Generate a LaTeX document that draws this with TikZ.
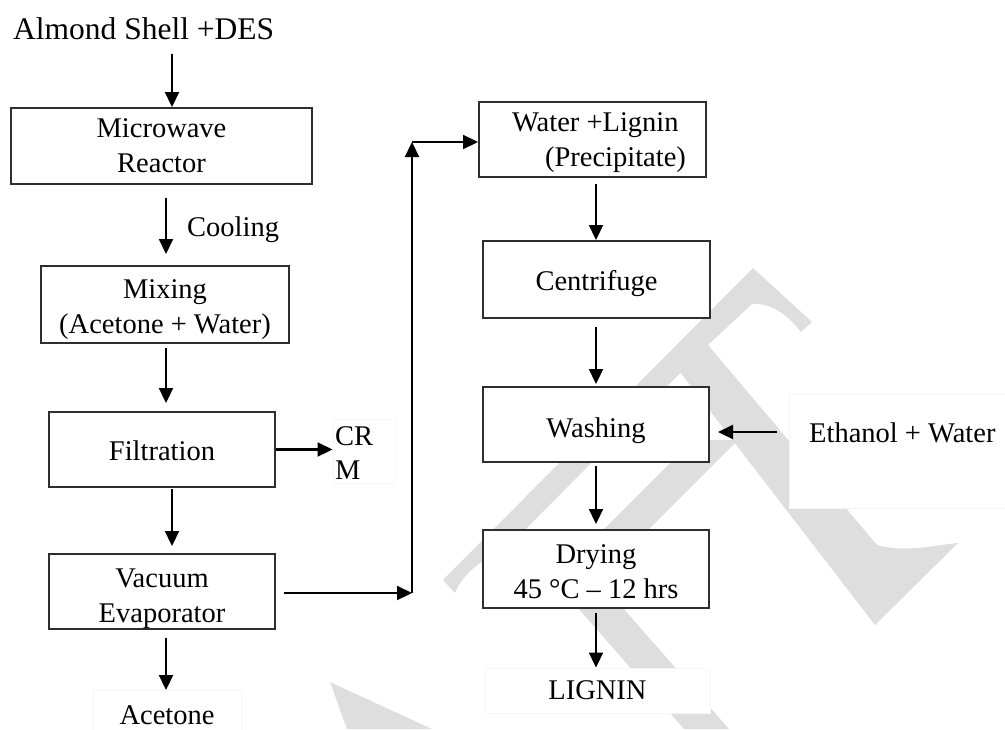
\documentclass[tikz,border=0pt]{standalone}
\usepackage{fontspec}
\setmainfont{Liberation Serif}
\usetikzlibrary{arrows.meta}
\definecolor{wmgray}{gray}{0.87}
\definecolor{boxline}{gray}{0.18}
\definecolor{faint}{gray}{0.965}
\begin{document}
\begin{tikzpicture}[x=1pt,y=-1pt,
  every node/.style={font=\fontsize{28.5}{35}\selectfont, inner sep=0pt},
  stage/.style={draw=boxline, line width=2pt, fill=white, align=center, text depth=0pt},
  flow/.style={line width=2.2pt, -{Triangle[width=14pt,length=15pt]}},
  textbox/.style={draw=faint, line width=1pt, fill=white},
  wm/.style={fill=wmgray, draw=none}]
\useasboundingbox (0,0) rectangle (1005,729);

% background watermark strokes
\fill[wm] (443,580) -- (753,268) -- (812,322) -- (801,332)
  .. controls (785,312) and (770,303) .. (752,304) -- (708,345) -- (510,545)
  .. controls (480,560) and (462,575) .. (455,593) -- cycle;
\fill[wm] (680,372) -- (708,345) -- (877,545)
  .. controls (905,553) and (935,545) .. (958,543) -- (875,625) -- cycle;
\fill[wm] (585,548) -- (630,548) -- (738,440) -- (693,440) -- cycle;
\fill[wm] (330,682) -- (432,729) -- (347,729) -- cycle;
\fill[wm] (578,608) -- (623,608) -- (729,729) -- (684,729) -- cycle;

% side text boxes
\node[textbox, minimum width=225pt, minimum height=45pt] (lig) at (597.5,690.5) {LIGNIN};
\node[textbox, minimum width=148pt, minimum height=50pt, anchor=north] (ace) at (167,690) {Acetone};
\node[textbox, minimum width=62pt, minimum height=64pt] (crm) at (364,451) {};
\begin{scope}
  \clip (333,420) rectangle (396,478);
  \node[anchor=base west] (crtext) at (335,445) {CR};
  \node[anchor=base west] (mtext) at (335,479) {M};
\end{scope}
\node[textbox, minimum width=216pt, minimum height=114pt] (ethbox) at (897,451) {};
\node[anchor=west] (eth) at (809,433) {Ethanol + Water};

% title and label
\node[anchor=base west, font=\fontsize{31.5}{36}\selectfont] (title) at (13,39.5) {Almond Shell +DES};
\node[anchor=west] (cool) at (187,230) {Cooling};

% process stages, left column
\node[stage, minimum width=301pt, minimum height=76pt, text height=52pt] (mw) at (161.5,146) {Microwave\\Reactor};
\node[stage, minimum width=248pt, minimum height=77pt, text height=57pt] (mix) at (165,304.5) {Mixing\\(Acetone + Water)};
\node[stage, minimum width=226pt, minimum height=75pt, text height=21pt] (filt) at (162,449.5) {Filtration};
\node[stage, minimum width=226pt, minimum height=75pt, text height=61pt] (vac) at (162,591.5) {Vacuum\\Evaporator};

% process stages, right column
\node[stage, minimum width=227pt, minimum height=75pt] (wl) at (592.5,139.5) {};
\node[align=left] (wltext) at (599,143) {Water +Lignin\\\hspace*{33pt}(Precipitate)};
\node[stage, minimum width=227pt, minimum height=77pt, text height=21pt] (cf) at (596.5,279.5) {Centrifuge};
\node[stage, minimum width=226pt, minimum height=75pt, text height=25pt] (wash) at (596,424.5) {Washing};
\node[stage, minimum width=226pt, minimum height=78pt, text height=58pt] (dry) at (596,569) {Drying\\45 °C – 12 hrs};

% guide coordinates for connectors
\coordinate (x172) at (172,0);
\coordinate (x166) at (166,0);
\coordinate (x596) at (596,0);
\coordinate (c1) at (412,593);
\coordinate (c2) at (412,142);
\coordinate (y432) at (0,432);

% connectors
\draw[flow, shorten <=13.5pt] (x172 |- title.south) -- (x172 |- mw.north);
\draw[flow, shorten <=13pt, shorten >=11pt] (x166 |- mw.south) -- (x166 |- mix.north);
\draw[flow, shorten <=4pt, shorten >=8pt] (x166 |- mix.south) -- (x166 |- filt.north);
\draw[flow, shorten <=1pt, shorten >=7pt] (x172 |- filt.south) -- (x172 |- vac.north);
\draw[flow, shorten <=8pt] (x166 |- vac.south) -- (x166 |- ace.north);
\draw[flow] (filt.east) -- (filt.east -| crm.west);
\draw[flow, shorten <=8pt] (vac.east |- c1) -- (c1);
\draw[flow] (c1) -- (c2);
\draw[flow] (c2) -- (c2 -| wl.west);
\draw[flow, shorten <=6pt] (x596 |- wl.south) -- (x596 |- cf.north);
\draw[flow, shorten <=8pt, shorten >=2pt] (x596 |- cf.south) -- (x596 |- wash.north);
\draw[flow, shorten <=3pt, shorten >=5pt] (x596 |- wash.south) -- (x596 |- dry.north);
\draw[flow, shorten <=4pt] (x596 |- dry.south) -- (x596 |- lig.north);
\draw[flow, shorten <=12pt, shorten >=8pt] (ethbox.west |- y432) -- (wash.east |- y432);
\end{tikzpicture}
\end{document}
